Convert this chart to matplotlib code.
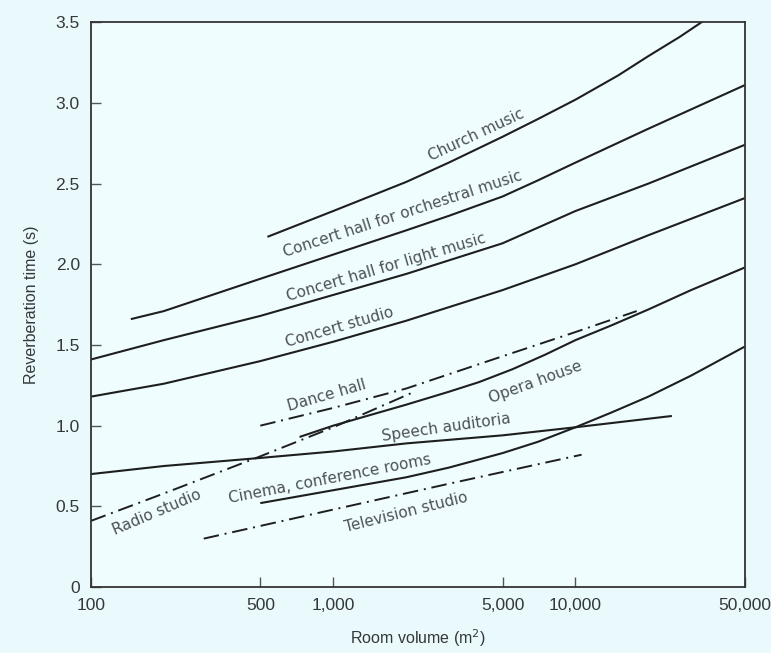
import matplotlib.pyplot as plt
from matplotlib.ticker import FixedLocator, NullLocator

# room volume (m^3) / reverberation time (s)
church_x = [535, 1000, 2000, 3000, 5000, 7000, 10000, 15000, 20000, 27000, 35500]
church_y = [2.17, 2.33, 2.51, 2.63, 2.79, 2.90, 3.02, 3.17, 3.29, 3.41, 3.53]

orchestral_x = [146, 200, 500, 1000, 2000, 3000, 5000, 7000, 10000, 20000, 50000]
orchestral_y = [1.66, 1.71, 1.91, 2.06, 2.21, 2.30, 2.42, 2.52, 2.63, 2.84, 3.11]

light_x = [100, 200, 500, 1000, 2000, 5000, 10000, 20000, 50000]
light_y = [1.41, 1.53, 1.68, 1.81, 1.94, 2.13, 2.33, 2.50, 2.74]

studio_x = [100, 200, 500, 1000, 2000, 5000, 10000, 20000, 50000]
studio_y = [1.18, 1.26, 1.40, 1.52, 1.65, 1.84, 2.00, 2.18, 2.41]

opera_x = [726, 1000, 2000, 3000, 4000, 5500, 7500, 10000, 14000, 20000, 30000, 50000]
opera_y = [0.93, 1.00, 1.13, 1.21, 1.27, 1.35, 1.44, 1.53, 1.62, 1.72, 1.84, 1.98]

dance_x = [500, 1000, 2000, 5000, 10000, 17900]
dance_y = [1.00, 1.11, 1.23, 1.43, 1.58, 1.71]

speech_x = [100, 200, 500, 1000, 2000, 5000, 10000, 25000]
speech_y = [0.70, 0.75, 0.80, 0.84, 0.89, 0.94, 0.99, 1.06]

cinema_x = [500, 1000, 2000, 3000, 5000, 7000, 10000, 14000, 20000, 30000, 50000]
cinema_y = [0.52, 0.60, 0.68, 0.74, 0.83, 0.90, 0.99, 1.08, 1.18, 1.31, 1.49]

radio_x = [100, 200, 500, 1000, 2160]
radio_y = [0.41, 0.58, 0.81, 0.99, 1.21]

tv_x = [292, 1000, 3000, 10600]
tv_y = [0.30, 0.48, 0.64, 0.82]

x_ticks = [100, 500, 1000, 5000, 10000, 50000]
x_tick_labels = ["100", "500", "1,000", "5,000", "10,000", "50,000"]
y_ticks = [0, 0.5, 1.0, 1.5, 2.0, 2.5, 3.0, 3.5]
y_tick_labels = ["0", "0.5", "1.0", "1.5", "2.0", "2.5", "3.0", "3.5"]

BG = "#eafafc"
LINE = "#1e1e1e"
TEXT = "#34373c"
LABEL = "#4c5158"
DASHDOT = (0, (8, 3, 1, 3))
AXFONT = ["Liberation Sans", "DejaVu Sans"]

fig = plt.figure(figsize=(7.71, 6.53), dpi=100, facecolor=BG)
ax = fig.add_axes([0.118, 0.101, 0.848, 0.865], facecolor="#f0fdfe")

solid = [
    (church_x, church_y),
    (orchestral_x, orchestral_y),
    (light_x, light_y),
    (studio_x, studio_y),
    (opera_x, opera_y),
    (speech_x, speech_y),
    (cinema_x, cinema_y),
]
for xs, ys in solid:
    ax.plot(xs, ys, color=LINE, lw=1.5, solid_capstyle="butt", solid_joinstyle="round")

for xs, ys in [(dance_x, dance_y), (radio_x, radio_y), (tv_x, tv_y)]:
    ax.plot(xs, ys, color=LINE, lw=1.4, linestyle=DASHDOT)

# curve labels: text, x, y, angle
labels = [
    ("Church music", 3890, 2.80, 25),
    ("Concert hall for orchestral music", 1930, 2.31, 18),
    ("Concert hall for light music", 1660, 1.98, 16.5),
    ("Concert studio", 1062, 1.61, 16),
    ("Dance hall", 938, 1.19, 16),
    ("Opera house", 6820, 1.27, 20),
    ("Speech auditoria", 2930, 0.99, 8),
    ("Cinema, conference rooms", 966, 0.67, 11),
    ("Radio studio", 187, 0.46, 23),
    ("Television studio", 2005, 0.46, 14),
]
for text, x, y, ang in labels:
    ax.text(x, y, text, rotation=ang, rotation_mode="anchor", ha="center",
            va="center", fontsize=11, color=LABEL, family="DejaVu Sans")

ax.set_xscale("log")
ax.set_xlim(100, 50000)
ax.set_ylim(0, 3.5)
ax.xaxis.set_major_locator(FixedLocator(x_ticks))
ax.xaxis.set_minor_locator(NullLocator())
ax.set_xticklabels(x_tick_labels, family=AXFONT)
ax.set_yticks(y_ticks)
ax.set_yticklabels(y_tick_labels, family=AXFONT)
ax.tick_params(direction="in", length=7, width=1, color="#555555",
               labelsize=12.5, labelcolor=TEXT, pad=8)
for s in ax.spines.values():
    s.set_color("#333333")
    s.set_linewidth(1.3)

ax.set_xlabel("Room volume (m$^2$)", fontsize=11.5, color=TEXT, labelpad=10, family=AXFONT)
ax.set_ylabel("Reverberation time (s)", fontsize=11.5, color=TEXT, labelpad=12, family=AXFONT)

fig.savefig("out.png", dpi=100, facecolor=BG)
